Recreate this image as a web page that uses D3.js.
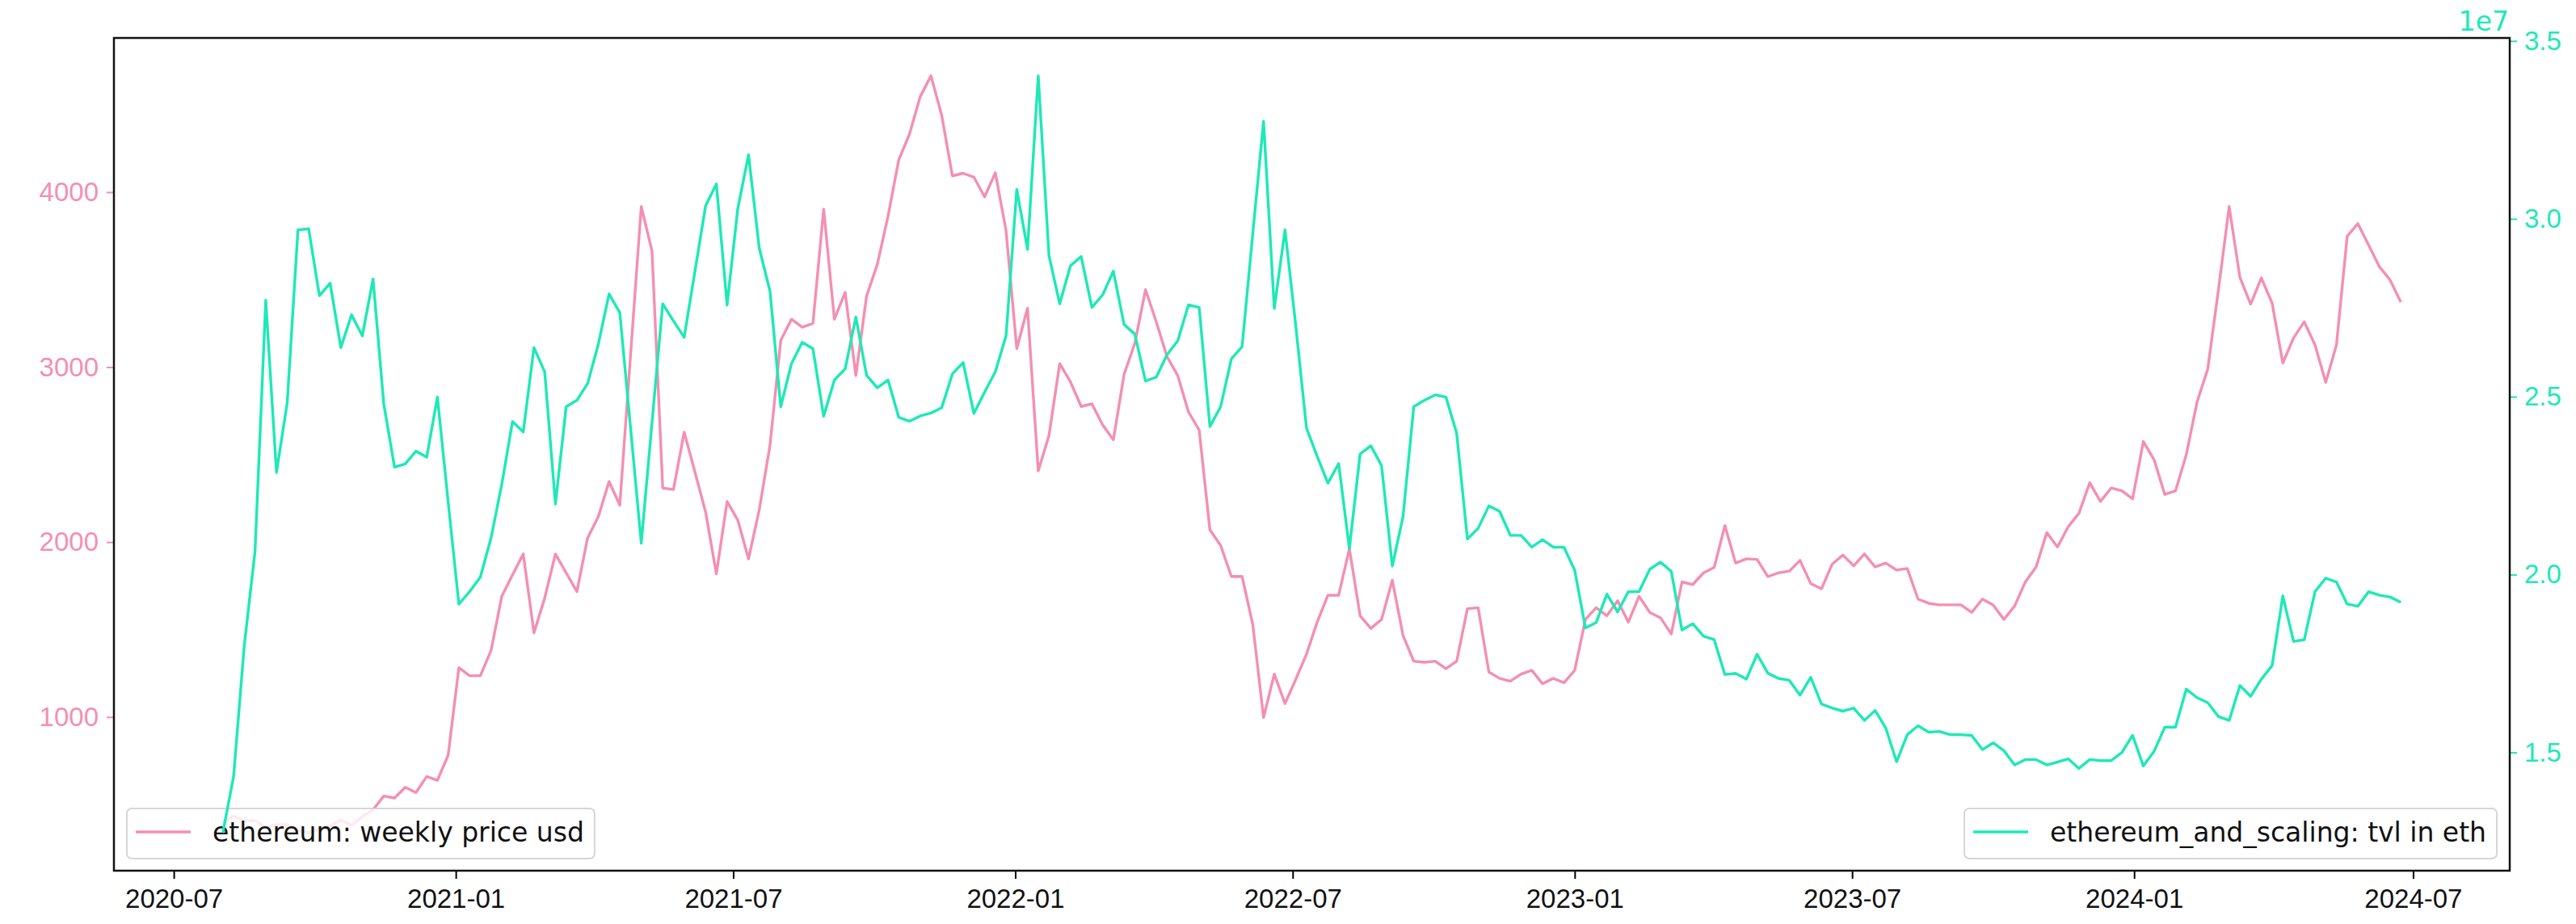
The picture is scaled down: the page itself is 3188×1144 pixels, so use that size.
<!DOCTYPE html>
<html><head><meta charset="utf-8">
<script src="https://cdn.jsdelivr.net/npm/d3@7"></script>
<style>
html,body{margin:0;padding:0;background:#fff;}
svg{display:block;font-family:"DejaVu Sans",sans-serif;}
</style></head><body>
<svg id="chart" width="3188" height="1144"></svg>
<script>
// ---- data ----
const startDate = "2020-08-02";
const endDate = "2024-06-23";
const seriesNames = ["ethereum: weekly price usd", "ethereum_and_scaling: tvl in eth"];
const seriesColors = ["#f48fb1", "#1de9b6"];
const priceUsd = [
 395, 434, 408, 408, 369, 385, 385, 352, 338, 361,
 377, 412, 380, 431, 470, 548, 537, 598, 568, 660,
 638, 782, 1282, 1236, 1236, 1380, 1690, 1812, 1932, 1481,
 1680, 1932, 1824, 1717, 2024, 2146, 2346, 2211, 3066, 3918,
 3663, 2309, 2300, 2628, 2401, 2171, 1818, 2232, 2125, 1904,
 2186, 2554, 3152, 3274, 3228, 3250, 3903, 3274, 3427, 2952,
 3406, 3587, 3863, 4185, 4332, 4546, 4665, 4439, 4093, 4108,
 4086, 3973, 4111, 3780, 3106, 3336, 2407, 2609, 3020, 2916,
 2775, 2790, 2670, 2585, 2958, 3136, 3443, 3259, 3060, 2952,
 2744, 2640, 2070, 1981, 1803, 1803, 1527, 997, 1245, 1077,
 1215, 1359, 1543, 1696, 1696, 1962, 1579, 1506, 1558, 1782,
 1466, 1319, 1313, 1319, 1276, 1319, 1619, 1625, 1257, 1221,
 1205, 1245, 1267, 1190, 1221, 1196, 1267, 1558, 1625, 1579,
 1665, 1543, 1690, 1598, 1567, 1475, 1772, 1757, 1824, 1855,
 2094, 1880, 1904, 1901, 1803, 1824, 1834, 1895, 1763, 1733,
 1874, 1926, 1864, 1932, 1858, 1880, 1840, 1849, 1674, 1650,
 1641, 1641, 1641, 1598, 1674, 1641, 1558, 1634, 1772, 1858,
 2054, 1972, 2088, 2165, 2339, 2232, 2309, 2293, 2247, 2575,
 2471, 2272, 2293, 2499, 2799, 2989, 3443, 3918, 3513, 3360,
 3510, 3366, 3023, 3167, 3259, 3127, 2913, 3127, 3749, 3820,
 3697, 3574, 3498, 3372
];
const tvlEth = [
 1.274e7, 1.432e7, 1.801e7, 2.065e7, 2.771e7, 2.287e7, 2.483e7, 2.969e7, 2.972e7, 2.784e7,
 2.819e7, 2.638e7, 2.730e7, 2.671e7, 2.831e7, 2.480e7, 2.302e7, 2.311e7, 2.347e7, 2.330e7,
 2.499e7, 2.205e7, 1.917e7, 1.952e7, 1.993e7, 2.103e7, 2.254e7, 2.430e7, 2.401e7, 2.638e7,
 2.570e7, 2.198e7, 2.472e7, 2.490e7, 2.537e7, 2.648e7, 2.789e7, 2.736e7, 2.413e7, 2.088e7,
 2.427e7, 2.761e7, 2.713e7, 2.667e7, 2.852e7, 3.037e7, 3.098e7, 2.758e7, 3.030e7, 3.180e7,
 2.917e7, 2.796e7, 2.472e7, 2.593e7, 2.653e7, 2.635e7, 2.445e7, 2.547e7, 2.578e7, 2.724e7,
 2.560e7, 2.525e7, 2.547e7, 2.442e7, 2.431e7, 2.446e7, 2.454e7, 2.469e7, 2.564e7, 2.596e7,
 2.453e7, 2.513e7, 2.570e7, 2.671e7, 3.083e7, 2.914e7, 3.402e7, 2.897e7, 2.761e7, 2.868e7,
 2.894e7, 2.751e7, 2.786e7, 2.853e7, 2.703e7, 2.676e7, 2.544e7, 2.555e7, 2.618e7, 2.657e7,
 2.758e7, 2.751e7, 2.416e7, 2.472e7, 2.606e7, 2.641e7, 2.960e7, 3.274e7, 2.748e7, 2.969e7,
 2.700e7, 2.412e7, 2.332e7, 2.257e7, 2.312e7, 2.073e7, 2.339e7, 2.362e7, 2.306e7, 2.024e7,
 2.163e7, 2.472e7, 2.490e7, 2.505e7, 2.499e7, 2.397e7, 2.100e7, 2.130e7, 2.193e7, 2.178e7,
 2.110e7, 2.110e7, 2.077e7, 2.098e7, 2.077e7, 2.077e7, 2.012e7, 1.850e7, 1.865e7, 1.945e7,
 1.895e7, 1.952e7, 1.952e7, 2.015e7, 2.035e7, 2.009e7, 1.844e7, 1.862e7, 1.827e7, 1.817e7,
 1.719e7, 1.722e7, 1.706e7, 1.776e7, 1.723e7, 1.708e7, 1.703e7, 1.661e7, 1.711e7, 1.636e7,
 1.625e7, 1.616e7, 1.625e7, 1.590e7, 1.618e7, 1.568e7, 1.474e7, 1.550e7, 1.575e7, 1.557e7,
 1.559e7, 1.550e7, 1.550e7, 1.548e7, 1.508e7, 1.527e7, 1.505e7, 1.465e7, 1.480e7, 1.480e7,
 1.465e7, 1.473e7, 1.482e7, 1.455e7, 1.480e7, 1.477e7, 1.477e7, 1.500e7, 1.548e7, 1.462e7,
 1.503e7, 1.571e7, 1.571e7, 1.678e7, 1.654e7, 1.640e7, 1.601e7, 1.590e7, 1.688e7, 1.658e7,
 1.706e7, 1.744e7, 1.940e7, 1.812e7, 1.817e7, 1.952e7, 1.990e7, 1.979e7, 1.917e7, 1.911e7,
 1.952e7, 1.942e7, 1.937e7, 1.922e7
];
const xTickLabels = ["2020-07", "2021-01", "2021-07", "2022-01", "2022-07", "2023-01", "2023-07", "2024-01", "2024-07"];
const leftTickValues = [1000, 2000, 3000, 4000];
const rightTickValues = [1.5e7, 2.0e7, 2.5e7, 3.0e7, 3.5e7];
const rightOffsetLabel = "1e7";

// ---- layout ----
const P = {left: 141, right: 3106, top: 47, bottom: 1078};
const FONT = 33;
const LW = 3.4;
const svg = d3.select("#chart");

const dates = d3.utcSunday.range(new Date(startDate), d3.utcDay.offset(new Date(endDate), 1));
function padded(ext) { const r = ext[1] - ext[0]; return [ext[0] - 0.05 * r, ext[1] + 0.05 * r]; }

const xExt = d3.extent(dates).map(d => +d);
const x = d3.scaleUtc().domain(padded(xExt).map(v => new Date(v))).range([P.left, P.right]);
const yL = d3.scaleLinear().domain(padded(d3.extent(priceUsd))).range([P.bottom, P.top]);
const yR = d3.scaleLinear().domain(padded(d3.extent(tvlEth))).range([P.bottom, P.top]);

const priceData = dates.map((d, i) => ({d, v: priceUsd[i]}));
const tvlData = dates.map((d, i) => ({d, v: tvlEth[i]}));

// axes
const parseYM = d3.utcParse("%Y-%m");
const xAxis = d3.axisBottom(x).tickValues(xTickLabels.map(parseYM))
  .tickFormat(d3.utcFormat("%Y-%m")).tickSize(10).tickPadding(13);
const gx = svg.append("g").attr("transform", `translate(0,${P.bottom})`).call(xAxis);
gx.select(".domain").remove();
gx.selectAll(".tick line").attr("stroke", "#000").attr("stroke-width", 2);
gx.selectAll(".tick text").attr("fill", "#111").style("font-size", FONT + "px");

const lAxis = d3.axisLeft(yL).tickValues(leftTickValues).tickFormat(d3.format("d")).tickSize(9).tickPadding(10);
const gl = svg.append("g").attr("transform", `translate(${P.left},0)`).call(lAxis);
gl.select(".domain").remove();
gl.selectAll(".tick line").attr("stroke", seriesColors[0]).attr("stroke-width", 2);
gl.selectAll(".tick text").attr("fill", seriesColors[0]).style("font-size", FONT + "px");

const rAxis = d3.axisRight(yR).tickValues(rightTickValues).tickFormat(d => (d / 1e7).toFixed(1)).tickSize(9).tickPadding(9);
const gr = svg.append("g").attr("transform", `translate(${P.right},0)`).call(rAxis);
gr.select(".domain").remove();
gr.selectAll(".tick line").attr("stroke", seriesColors[1]).attr("stroke-width", 2);
gr.selectAll(".tick text").attr("fill", seriesColors[1]).style("font-size", FONT + "px");

svg.append("text").attr("x", P.right - 1).attr("y", 38).attr("text-anchor", "end")
  .attr("fill", seriesColors[1]).style("font-size", FONT + "px").text(rightOffsetLabel);

// lines
const lineL = d3.line().x(p => x(p.d)).y(p => yL(p.v));
const lineR = d3.line().x(p => x(p.d)).y(p => yR(p.v));

svg.append("path").datum(priceData).attr("d", lineL)
  .attr("fill", "none").attr("stroke", seriesColors[0]).attr("stroke-width", LW)
  .attr("stroke-linejoin", "round");

function legend(name, color, anchorX, alignRight) {
  const g = svg.append("g");
  const box = g.append("rect");
  const t = g.append("text").attr("y", 1042).attr("fill", "#111")
    .style("font-size", FONT + "px").text(name);
  const len = t.node().getComputedTextLength();
  const w = 106 + len + 13;
  const bx = alignRight ? anchorX - w : anchorX;
  box.attr("x", bx).attr("y", 1001).attr("width", w).attr("height", 62).attr("rx", 6)
    .attr("fill", "#fff").attr("fill-opacity", 0.8)
    .attr("stroke", "#cccccc").attr("stroke-opacity", 0.8).attr("stroke-width", 2);
  g.append("line").attr("x1", bx + 11).attr("x2", bx + 79).attr("y1", 1030).attr("y2", 1030)
    .attr("stroke", color).attr("stroke-width", LW);
  t.attr("x", bx + 106);
}
legend(seriesNames[0], seriesColors[0], 157, false);

svg.append("path").datum(tvlData).attr("d", lineR)
  .attr("fill", "none").attr("stroke", seriesColors[1]).attr("stroke-width", LW)
  .attr("stroke-linejoin", "round");

legend(seriesNames[1], seriesColors[1], 3090, true);

// frame
svg.append("rect").attr("x", P.left).attr("y", P.top)
  .attr("width", P.right - P.left).attr("height", P.bottom - P.top)
  .attr("fill", "none").attr("stroke", "#111").attr("stroke-width", 2.5);
</script>
</body></html>
